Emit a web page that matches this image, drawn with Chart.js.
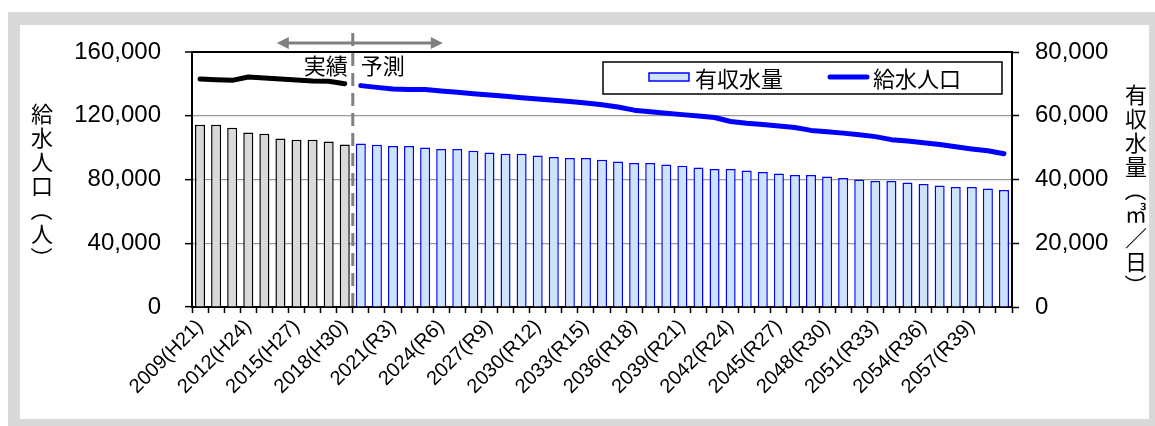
<!DOCTYPE html>
<html lang="ja">
<head>
<meta charset="utf-8">
<title>給水人口・有収水量の実績と予測</title>
<script src="https://cdn.jsdelivr.net/npm/chart.js@4.4.1/dist/chart.umd.min.js"></script>
<style>
  html, body { margin: 0; padding: 0; background: #fff; }
  #frame { position: absolute; left: 8px; top: 12px; width: 1147px; height: 414px; background: #d9d9d9; }
  #panel { position: absolute; left: 20px; top: 25px; width: 1129px; height: 394px; background: #fff; }
  #wrap { position: absolute; left: 0; top: 0; width: 1155px; height: 426px; }
</style>
</head>
<body>
<div id="frame"></div>
<div id="panel"></div>
<div id="wrap"><canvas id="c" width="1155" height="426"></canvas></div>
<script>
// 年度（西暦・和暦）
const yearLabels = [
  "2009(H21)", "2010(H22)", "2011(H23)", "2012(H24)", "2013(H25)", "2014(H26)", "2015(H27)",
  "2016(H28)", "2017(H29)", "2018(H30)", "2019(R1)", "2020(R2)", "2021(R3)", "2022(R4)",
  "2023(R5)", "2024(R6)", "2025(R7)", "2026(R8)", "2027(R9)", "2028(R10)", "2029(R11)",
  "2030(R12)", "2031(R13)", "2032(R14)", "2033(R15)", "2034(R16)", "2035(R17)", "2036(R18)",
  "2037(R19)", "2038(R20)", "2039(R21)", "2040(R22)", "2041(R23)", "2042(R24)", "2043(R25)",
  "2044(R26)", "2045(R27)", "2046(R28)", "2047(R29)", "2048(R30)", "2049(R31)", "2050(R32)",
  "2051(R33)", "2052(R34)", "2053(R35)", "2054(R36)", "2055(R37)", "2056(R38)", "2057(R39)",
  "2058(R40)", "2059(R41)"
];

// 有収水量（㎥/日）実績・予測
const volumeActual = [57200, 57200, 56250, 54770, 54360, 52890, 52480, 52480, 51950, 51010];
const volumeForecast = [
  51320, 50910, 50510, 50510, 50070, 49560, 49560, 49030, 48500, 48090,
  48090, 47560, 47060, 46740, 46740, 46210, 45680, 45170, 45170, 44730,
  44330, 43790, 43290, 43290, 42850, 42380, 41910, 41440, 41440, 40970,
  40470, 39970, 39530, 39530, 39090, 38590, 38150, 37640, 37640, 37170, 36700
];

// 給水人口（人）実績・予測
const populationActual = [143100, 142600, 142200, 144300, 143700, 143100, 142400, 141800, 141600, 140100];
const populationForecast = [
  138900, 137800, 136800, 136400, 136400, 135500, 134700, 133800, 133000, 132200,
  131300, 130500, 129700, 129000, 128000, 126900, 125500, 123500, 122500, 121600,
  120700, 119900, 118900, 116400, 115300, 114500, 113600, 112600, 110800, 109900,
  109100, 108100, 106900, 105000, 104100, 103100, 102000, 100500, 99200, 98000, 96200
];

// 軸目盛
const populationTicks = [0, 40000, 80000, 120000, 160000];
const volumeTicks = [0, 20000, 40000, 60000, 80000];

const nA = volumeActual.length;
const nF = volumeForecast.length;
const volumeAll = volumeActual.concat(volumeForecast);
const popActualSeries = populationActual.concat(new Array(nF).fill(null));
const popForecastSeries = new Array(nA).fill(null).concat(populationForecast);

const GRAY_FILL = '#d9d9d9';
const BLUE_FILL = '#cde3fa';
const BLUE = '#0000ff';
const JP = '"Noto Sans CJK JP", "Noto Sans CJK SC", sans-serif';
const LAT = '"Liberation Sans", Arial, sans-serif';

Chart.defaults.font.family = LAT;
Chart.defaults.color = '#000';

// 縦書きの一文字（括弧は90度回転）
function drawVerticalChar(ctx, ch, x, y) {
  if (ch === '（' || ch === '）') {
    ctx.save();
    ctx.translate(x, y);
    ctx.rotate(Math.PI / 2);
    ctx.fillText(ch, 0, 0);
    ctx.restore();
  } else {
    ctx.fillText(ch, x, y);
  }
}

// 縦書き軸タイトル・実績/予測の区切り・凡例
const decorPlugin = {
  id: 'decor',
  afterDraw(chart) {
    const ctx = chart.ctx;
    const area = chart.chartArea;
    const xs = chart.scales.x;
    ctx.save();

    // 縦書きタイトル
    ctx.fillStyle = '#000';
    ctx.textAlign = 'center';
    ctx.textBaseline = 'middle';
    ctx.font = '22px ' + JP;
    const leftTitle = ['給', '水', '人', '口', '（', '人', '）'];
    leftTitle.forEach((ch, i) => drawVerticalChar(ctx, ch, 42, 114 + i * 24));
    const rightTitle = ['有', '収', '水', '量', '（', '㎥', '／', '日', '）'];
    rightTitle.forEach((ch, i) => drawVerticalChar(ctx, ch, 1136, 95 + i * 23.8));

    // 実績/予測の境界
    const bx = (xs.getPixelForValue(nA - 1) + xs.getPixelForValue(nA)) / 2;
    ctx.strokeStyle = '#808080';
    ctx.lineWidth = 3;
    ctx.setLineDash([13, 7]);
    ctx.beginPath();
    ctx.moveTo(bx, 33);
    ctx.lineTo(bx, area.bottom);
    ctx.stroke();
    ctx.setLineDash([]);

    // 両矢印
    const ay = 43, ax0 = bx - 76, ax1 = bx + 90, ah = 12, aw = 6;
    ctx.beginPath();
    ctx.moveTo(ax0 + ah - 2, ay);
    ctx.lineTo(ax1 - ah + 2, ay);
    ctx.stroke();
    ctx.fillStyle = '#808080';
    ctx.beginPath();
    ctx.moveTo(ax0, ay); ctx.lineTo(ax0 + ah, ay - aw); ctx.lineTo(ax0 + ah, ay + aw); ctx.closePath();
    ctx.fill();
    ctx.beginPath();
    ctx.moveTo(ax1, ay); ctx.lineTo(ax1 - ah, ay - aw); ctx.lineTo(ax1 - ah, ay + aw); ctx.closePath();
    ctx.fill();

    ctx.fillStyle = '#000';
    ctx.font = '22px ' + JP;
    ctx.textAlign = 'right';
    ctx.fillText('実績', bx - 5, 66);
    ctx.textAlign = 'left';
    ctx.fillText('予測', bx + 8, 66);

    // 凡例
    const bar = chart.data.datasets[0];
    const line = chart.data.datasets[2];
    ctx.fillStyle = '#fff';
    ctx.fillRect(603, 62, 399, 32);
    ctx.strokeStyle = '#000';
    ctx.lineWidth = 1.5;
    ctx.strokeRect(603, 62, 399, 32);

    ctx.fillStyle = BLUE_FILL;
    ctx.fillRect(649, 73, 40, 8);
    ctx.strokeStyle = BLUE;
    ctx.lineWidth = 1.5;
    ctx.strokeRect(649, 73, 40, 8);

    ctx.strokeStyle = line.borderColor;
    ctx.lineWidth = 5;
    ctx.lineCap = 'round';
    ctx.beginPath();
    ctx.moveTo(830, 77);
    ctx.lineTo(867, 77);
    ctx.stroke();

    ctx.fillStyle = '#000';
    ctx.font = '22px ' + JP;
    ctx.textAlign = 'left';
    ctx.fillText(bar.label, 695, 79);
    ctx.fillText(line.label, 873, 79);
    ctx.restore();
  }
};

new Chart(document.getElementById('c'), {
  data: {
    labels: yearLabels,
    datasets: [
      {
        type: 'bar',
        label: '有収水量',
        data: volumeAll,
        yAxisID: 'y1',
        backgroundColor: volumeAll.map((v, i) => (i < nA ? GRAY_FILL : BLUE_FILL)),
        borderColor: volumeAll.map((v, i) => (i < nA ? '#000' : BLUE)),
        borderWidth: 1.5,
        barPercentage: 0.625,
        categoryPercentage: 1.0,
        order: 3
      },
      {
        type: 'line',
        label: '給水人口（実績）',
        data: popActualSeries,
        yAxisID: 'y',
        borderColor: '#000',
        borderWidth: 5,
        borderCapStyle: 'round',
        borderJoinStyle: 'round',
        pointRadius: 0,
        tension: 0,
        spanGaps: false,
        order: 1
      },
      {
        type: 'line',
        label: '給水人口',
        data: popForecastSeries,
        yAxisID: 'y',
        borderColor: BLUE,
        borderWidth: 5,
        borderCapStyle: 'round',
        borderJoinStyle: 'round',
        pointRadius: 0,
        tension: 0,
        spanGaps: false,
        order: 1
      }
    ]
  },
  options: {
    responsive: false,
    animation: false,
    devicePixelRatio: 1,
    layout: { padding: { top: 52, left: 0, right: 0, bottom: 0 } },
    plugins: { legend: { display: false }, tooltip: { enabled: false } },
    scales: {
      x: {
        type: 'category',
        offset: true,
        grid: { offset: true, drawOnChartArea: false, drawTicks: true, tickLength: 6, tickColor: '#000', tickWidth: 1.5 },
        border: { color: '#000', width: 2 },
        ticks: {
          autoSkip: false,
          minRotation: 45,
          maxRotation: 45,
          padding: 2,
          color: '#000',
          font: { size: 20 },
          callback: function (v, i) { return i % 3 === 0 ? this.getLabelForValue(v) : ''; }
        },
        afterFit: (s) => { s.height = 119; }
      },
      y: {
        position: 'left',
        min: populationTicks[0],
        max: populationTicks[populationTicks.length - 1],
        afterBuildTicks: (s) => { s.ticks = populationTicks.map(v => ({ value: v })); },
        grid: {
          color: (c) => (c.tick && c.tick.value === 160000 ? '#000' : '#9a9a9a'),
          lineWidth: (c) => (c.tick && c.tick.value === 160000 ? 2 : 1.3),
          tickLength: 7,
          tickColor: '#000',
          tickWidth: 1.5
        },
        border: { color: '#000', width: 2 },
        ticks: { padding: 24, color: '#000', font: { size: 24 }, callback: (v) => v.toLocaleString('en-US') },
        afterFit: (s) => { s.width = 192; }
      },
      y1: {
        position: 'right',
        min: volumeTicks[0],
        max: volumeTicks[volumeTicks.length - 1],
        afterBuildTicks: (s) => { s.ticks = volumeTicks.map(v => ({ value: v })); },
        grid: { drawOnChartArea: false, tickLength: 7, tickColor: '#000', tickWidth: 1.5 },
        border: { color: '#000', width: 2 },
        ticks: { padding: 16, color: '#000', font: { size: 24 }, callback: (v) => v.toLocaleString('en-US') },
        afterFit: (s) => { s.width = 143; }
      }
    }
  },
  plugins: [decorPlugin]
});
</script>
</body>
</html>
